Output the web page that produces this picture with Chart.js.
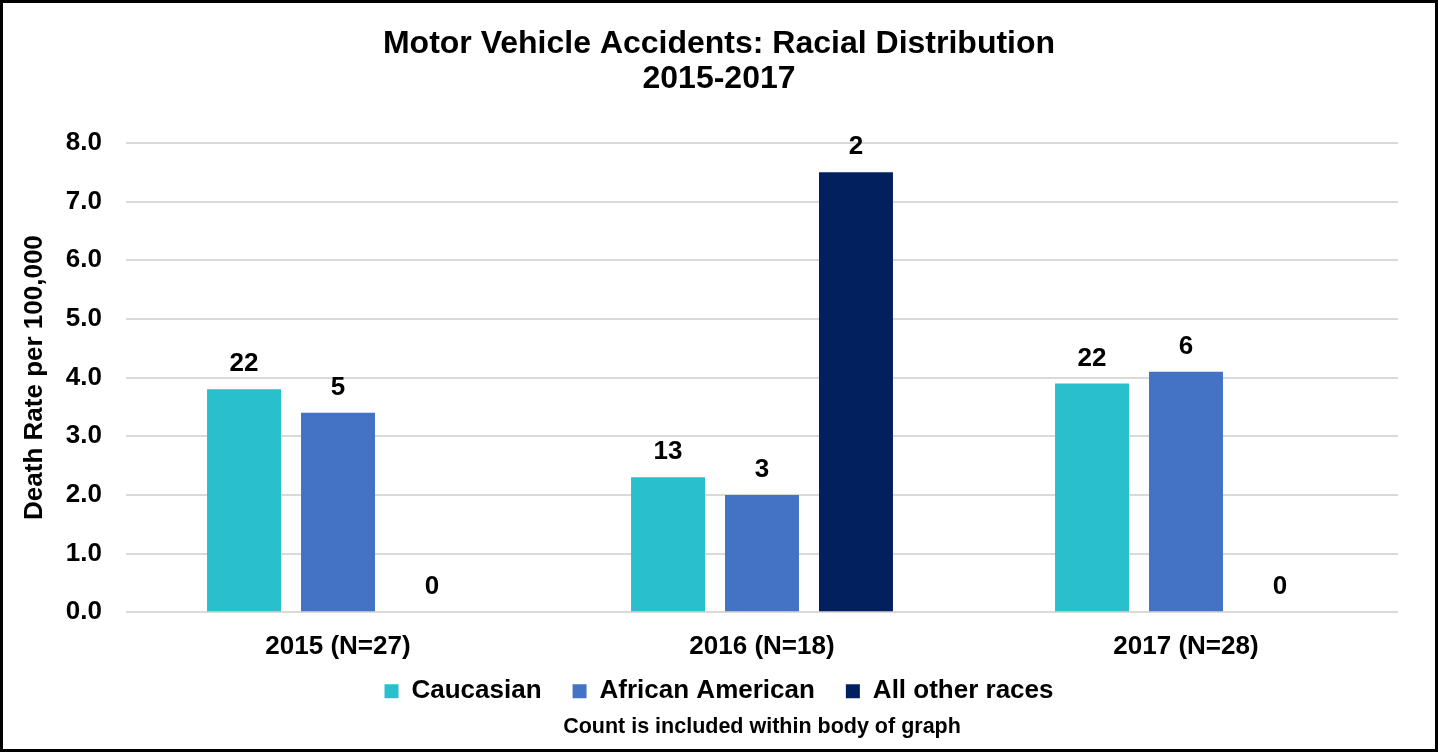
<!DOCTYPE html>
<html>
<head>
<meta charset="utf-8">
<script src="https://cdn.jsdelivr.net/npm/chart.js@4.4.1/dist/chart.umd.min.js"></script>
<style>
  html, body { margin: 0; padding: 0; background: #fff; }
  #wrap { position: absolute; left: 0; top: 0; width: 1438px; height: 752px; box-sizing: border-box; border: 3px solid #000; background: #fff; }
  canvas { display: block; }
</style>
</head>
<body>
<div id="wrap"><canvas id="c"></canvas></div>
<script>
const categories = ['2015 (N=27)', '2016 (N=18)', '2017 (N=28)'];
const caucasianRates = [3.8, 2.3, 3.9];
const africanAmericanRates = [3.4, 2.0, 4.1];
const otherRates = [0, 7.5, 0];
const caucasianCounts = [22, 13, 22];
const africanAmericanCounts = [5, 3, 6];
const otherCounts = [0, 2, 0];
const yTicks = [0, 1, 2, 3, 4, 5, 6, 7, 8];

const FONT = "'Liberation Sans', Arial, sans-serif";

// Count labels above bars and category labels under the x axis (unclipped)
const extraLabels = {
  id: 'extraLabels',
  afterDatasetsDraw(chart) {
    const ctx = chart.ctx;
    ctx.save();
    ctx.font = "bold 26px " + FONT;
    ctx.fillStyle = '#000';
    ctx.textAlign = 'center';
    ctx.textBaseline = 'middle';
    chart.data.datasets.forEach((ds, i) => {
      const meta = chart.getDatasetMeta(i);
      meta.data.forEach((bar, j) => {
        ctx.fillText(String(ds.counts[j]), bar.x, bar.y - 25);
      });
    });
    const xs = chart.scales.x;
    chart.data.labels.forEach((lab, i) => {
      ctx.fillText(lab, xs.getPixelForValue(i), chart.chartArea.bottom + 35);
    });
    ctx.restore();
  }
};

new Chart(document.getElementById('c'), {
  type: 'bar',
  data: {
    labels: categories,
    datasets: [
      { label: 'Caucasian', data: caucasianRates, counts: caucasianCounts, backgroundColor: '#2ABFCC' },
      { label: 'African American', data: africanAmericanRates, counts: africanAmericanCounts, backgroundColor: '#4472C4' },
      { label: 'All other races', data: otherRates, counts: otherCounts, backgroundColor: '#03205E' }
    ]
  },
  options: {
    responsive: true,
    maintainAspectRatio: false,
    animation: false,
    layout: { padding: { left: 37, right: 37, top: 0, bottom: 0 } },
    datasets: { bar: { categoryPercentage: 0.665, barPercentage: 0.787 } },
    plugins: {
      title: {
        display: true,
        text: ['Motor Vehicle Accidents: Racial Distribution', '2015-2017'],
        font: { family: FONT, size: 32, weight: 'bold', lineHeight: 1.1 },
        color: '#000',
        padding: { top: 23.5, bottom: 46 }
      },
      subtitle: {
        display: true,
        position: 'bottom',
        fullSize: false,
        text: 'Count is included within body of graph',
        font: { family: FONT, size: 21.5, weight: 'bold', lineHeight: 1.2 },
        color: '#000',
        padding: { top: 0, bottom: 9 }
      },
      legend: {
        position: 'bottom',
        labels: {
          font: { family: FONT, size: 26, weight: 'bold' },
          color: '#000',
          boxWidth: 14,
          boxHeight: 14,
          padding: 31
        }
      },
      tooltip: { enabled: false }
    },
    scales: {
      x: {
        grid: { display: false },
        border: { display: false },
        ticks: { display: false },
        afterFit(scale) { scale.height = 35; }
      },
      y: {
        min: 0,
        max: 8,
        afterBuildTicks(axis) { axis.ticks = yTicks.map(v => ({ value: v })); },
        afterFit(scale) { scale.width = 86; },
        grid: { color: '#D9D9D9', lineWidth: 2, drawTicks: false },
        border: { display: false },
        ticks: {
          font: { family: FONT, size: 26, weight: 'bold' },
          color: '#000',
          padding: 24,
          callback: v => Number(v).toFixed(1)
        },
        title: {
          display: true,
          text: 'Death Rate per 100,000',
          font: { family: FONT, size: 26, weight: 'bold', lineHeight: 1.2 },
          color: '#000',
          padding: { top: -21, bottom: 0 }
        }
      }
    }
  },
  plugins: [extraLabels]
});
</script>
</body>
</html>
